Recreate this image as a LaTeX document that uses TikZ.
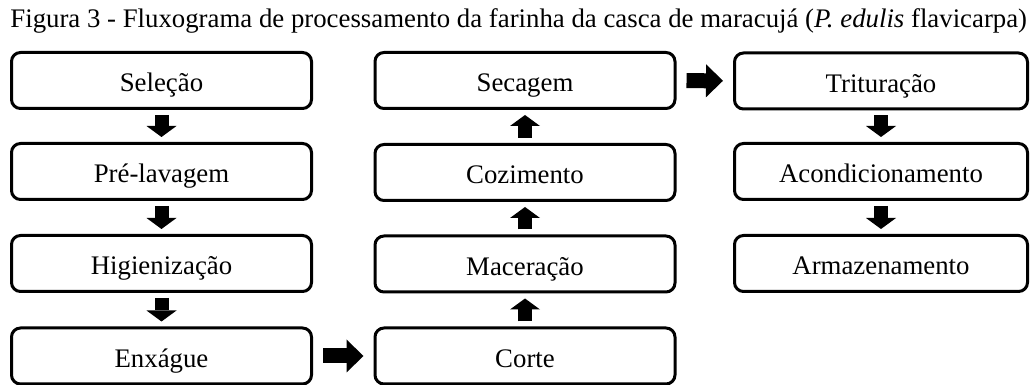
\documentclass[tikz,border=0pt]{standalone}
\usepackage{fontspec}
\setmainfont{Liberation Serif}
\usetikzlibrary{arrows.meta}

\begin{document}
\begin{tikzpicture}[x=0.5pt, y=-0.5pt, font=\fontsize{13.4}{16}\selectfont,
    etapa/.style={draw, line width=1.5pt, rounded corners=4.5pt, minimum height=28pt, inner sep=0pt, text height=12pt, text depth=0.5pt},
    varrow/.style={line width=7pt, -{Triangle[width=15pt, length=5.5pt, line width=0pt]}, shorten <=2.5pt, shorten >=2.5pt},
    harrow/.style={line width=7.5pt, -{Triangle[width=16.5pt, length=8.5pt, line width=0pt]}, shorten <=5pt, shorten >=5pt}]
                        \useasboundingbox (0, 0) rectangle (1030, 385);
                        \node[anchor=base west, inner sep=0pt] at (10, 28) (titulo) {Figura 3 - Fluxograma de processamento da farinha da casca de maracujá (\textit{P. edulis} flavicarpa)};

                        \node[etapa, minimum width=150pt] at (161.5, 80.5) (sel) {Seleção};
                        \node[etapa, minimum width=150pt] at (161.5, 171.5) (pre) {Pré-lavagem};
                        \node[etapa, minimum width=150pt] at (161.5, 263.5) (hig) {Higienização};
                        \node[etapa, minimum width=150pt] at (161.5, 356) (enx) {Enxágue};

                        \node[etapa, minimum width=150pt] at (525, 80.5) (sec) {Secagem};
                        \node[etapa, minimum width=150pt] at (525, 172.5) (coz) {Cozimento};
                        \node[etapa, minimum width=150pt] at (525, 264) (mac) {Maceração};
                        \node[etapa, minimum width=150pt] at (525, 356) (cor) {Corte};

                        \node[etapa, minimum width=146.5pt] at (881, 81) (tri) {Trituração};
                        \node[etapa, minimum width=146.5pt] at (881, 171.5) (aco) {Acondicionamento};
                        \node[etapa, minimum width=146.5pt] at (881, 263.5) (arm) {Armazenamento};

                        \path
                            (sel) edge [varrow] (pre)
                            (pre) edge [varrow] (hig)
                            (hig) edge [varrow] (enx)
                            (enx) edge [harrow] (cor)
                            (cor) edge [varrow] (mac)
                            (mac) edge [varrow] (coz)
                            (coz) edge [varrow] (sec)
                            (sec) edge [harrow] (tri)
                            (tri) edge [varrow] (aco)
                            (aco) edge [varrow] (arm);
                    \end{tikzpicture}
\end{document}
